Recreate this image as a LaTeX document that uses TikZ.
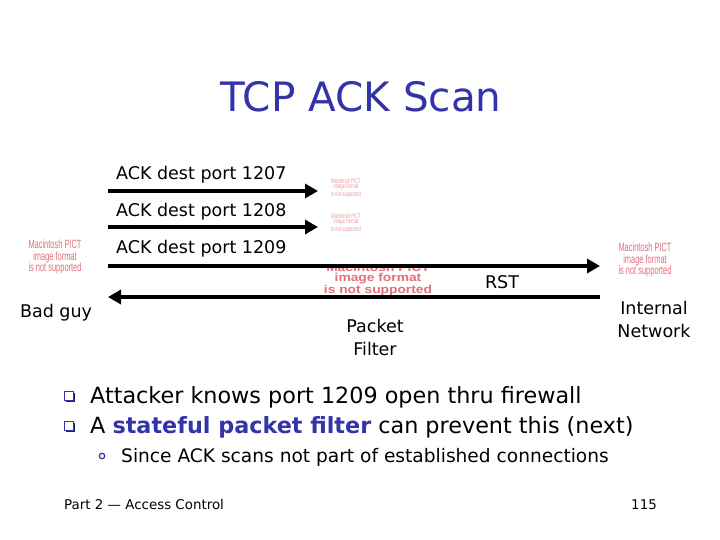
\documentclass[tikz,border=0pt]{standalone}
\usepackage{fontspec}
\setmainfont{DejaVu Sans}
\newfontfamily\pictfont[FakeStretch=0.62]{Liberation Sans}
\newfontfamily\pictwide[FakeStretch=1.2]{Liberation Sans}
\usepackage{xcolor}
\usetikzlibrary{arrows.meta, positioning, shadows}
\definecolor{titleblue}{RGB}{51,51,170}
\definecolor{pictred}{RGB}{224,112,122}

\begin{document}
\begin{tikzpicture}[x=1pt, y=-1pt,
  lbl/.style={font=\fontsize{17.5}{23}\selectfont, inner sep=0pt, align=center},
  pict/.style={text=pictred, font=\pictfont\fontsize{12}{11.5}\selectfont,
               align=center, inner sep=0pt},
  tinypict/.style={text=pictred!70, font=\pictfont\fontsize{6.8}{5.4}\selectfont,
                   align=center, inner sep=0pt},
  pkt/.style={line width=4.3pt, -{Triangle[length=13pt, width=14pt]}},
  item/.style={anchor=base west, inner sep=0pt, font=\fontsize{22.3}{27}\selectfont},
  qbox/.style={draw=titleblue, fill=white, line width=0.9pt, minimum size=9pt,
               inner sep=0pt, drop shadow={shadow xshift=1.3pt, shadow yshift=-1.3pt,
               fill=titleblue!60!black, opacity=1}}
]
  \fill[white] (0,0) rectangle (720,540);
  \useasboundingbox (0,0) rectangle (720,540);

  % title
  \node[anchor=base, text=titleblue, font=\fontsize{40.5}{48}\selectfont]
        (title) at (361,112) {TCP ACK Scan};

  % picture placeholders
  \node[pict] (guypict) at (55,257) {Macintosh PICT\\image format\\is not supported};
  \node[pict] (netpict) at (645,260) {Macintosh PICT\\image format\\is not supported};
  \node[tinypict] (port1) at (346,188) {Macintosh PICT\\image format\\is not supported};
  \node[tinypict] (port2) at (346,223) {Macintosh PICT\\image format\\is not supported};
  \begin{scope}
    \clip (300,267) rectangle (460,302);
    \node[pict, font=\pictwide\bfseries\fontsize{11.5}{10}\selectfont]
          (pfpict) at (378,279.5) {Macintosh PICT\\image format\\is not supported};
  \end{scope}

  % end points
  \coordinate (src1) at (108,191);
  \coordinate (dst1) at (318,191);
  \coordinate (src2) at (108,227);
  \coordinate (dst2) at (318,227);
  \coordinate (src3) at (108,266);
  \coordinate (dst3) at (600,266);
  \coordinate (rsts) at (600,297);
  \coordinate (rste) at (108,297);

  % packets
  \draw[pkt] (src1) -- (dst1);
  \draw[pkt] (src2) -- (dst2);
  \draw[pkt] (src3) -- (dst3);
  \draw[pkt] (rsts) -- (rste);

  \node[lbl, anchor=base west] (ack1) at (116,180) {ACK dest port 1207};
  \node[lbl, anchor=base west] (ack2) at (116,216) {ACK dest port 1208};
  \node[lbl, anchor=base west] (ack3) at (116,253) {ACK dest port 1209};
  \node[lbl, anchor=base] (rst) at (502,288) {RST};

  % hosts
  \node[lbl, anchor=base] (guy) at (56,317) {Bad guy};
  \node[lbl] (filter) at (375,337) {Packet\\Filter};
  \node[lbl] (net) at (654,319.5) {Internal\\Network};

  % bullets
  \node[qbox] (q1) at (69,396) {};
  \node[qbox] (q2) at (69,426) {};
  \node[item] (txt1) at (90,403) {Attacker knows port 1209 open thru firewall};
  \node[item] (txt2) at (90,433)
        {A {\bfseries\color{titleblue}stateful packet filter} can prevent this (next)};
  \node[circle, draw=titleblue, line width=1.2pt, minimum size=5.5pt, inner sep=0pt]
        (o1) at (102,456) {};
  \node[item, font=\fontsize{18.6}{22}\selectfont] (txt3) at (121,462)
        {Since ACK scans not part of established connections};

  % footer
  \node[anchor=base west, inner sep=0pt, font=\fontsize{13.4}{16}\selectfont]
        (foot) at (64,509) {Part 2 --- Access Control};
  \node[anchor=base east, inner sep=0pt, font=\fontsize{13.4}{16}\selectfont]
        (page) at (657,509) {115};
\end{tikzpicture}
\end{document}
